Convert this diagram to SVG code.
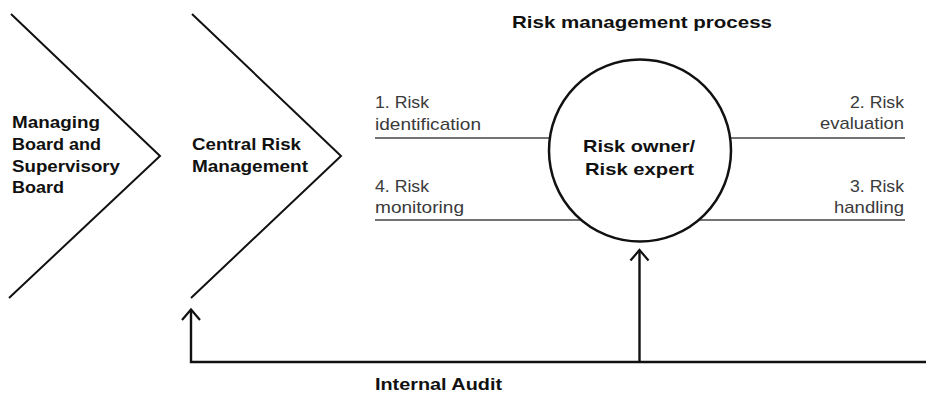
<svg xmlns="http://www.w3.org/2000/svg" width="926" height="419" viewBox="0 0 926 419">
  <style>
    .b { font-family: "Liberation Sans", Arial, sans-serif; font-weight: bold; font-size: 17px; fill: #111; }
    .r { font-family: "Liberation Sans", Arial, sans-serif; font-size: 17px; fill: #3a3a3a; }
    .chev { fill: none; stroke: #111; stroke-width: 2; }
    .proc { stroke: #444; stroke-width: 1.5; fill: none; }
    .conn { fill: none; stroke: #111; stroke-width: 2.4; }
    .head { fill: none; stroke: #111; stroke-width: 2.2; }
  </style>

  <g id="title">
    <text class="b" x="512" y="27.5" textLength="260" lengthAdjust="spacingAndGlyphs">Risk management process</text>
  </g>

  <g id="managing-board">
    <polyline class="chev" points="11,14 160,156 9,298"/>
    <text class="b" x="12" y="128" textLength="88" lengthAdjust="spacingAndGlyphs">Managing</text>
    <text class="b" x="12" y="150" textLength="89" lengthAdjust="spacingAndGlyphs">Board and</text>
    <text class="b" x="12" y="171.5" textLength="108" lengthAdjust="spacingAndGlyphs">Supervisory</text>
    <text class="b" x="12" y="193" textLength="52" lengthAdjust="spacingAndGlyphs">Board</text>
  </g>

  <g id="central-risk-management">
    <polyline class="chev" points="192,14 341,156 191,298"/>
    <text class="b" x="192" y="150" textLength="109" lengthAdjust="spacingAndGlyphs">Central Risk</text>
    <text class="b" x="192" y="172" textLength="116" lengthAdjust="spacingAndGlyphs">Management</text>
  </g>

  <g id="process-steps">
    <line class="proc" x1="375" y1="138" x2="905" y2="138"/>
    <line class="proc" x1="375" y1="220" x2="905" y2="220"/>
    <text class="r" x="375" y="108" textLength="54" lengthAdjust="spacingAndGlyphs">1. Risk</text>
    <text class="r" x="375" y="129.5" textLength="106" lengthAdjust="spacingAndGlyphs">identification</text>
    <text class="r" x="375" y="192" textLength="54" lengthAdjust="spacingAndGlyphs">4. Risk</text>
    <text class="r" x="375" y="213" textLength="89" lengthAdjust="spacingAndGlyphs">monitoring</text>
    <text class="r" x="904" y="107.5" text-anchor="end" textLength="54" lengthAdjust="spacingAndGlyphs">2. Risk</text>
    <text class="r" x="904" y="128.5" text-anchor="end" textLength="84" lengthAdjust="spacingAndGlyphs">evaluation</text>
    <text class="r" x="904" y="192" text-anchor="end" textLength="54" lengthAdjust="spacingAndGlyphs">3. Risk</text>
    <text class="r" x="904" y="213" text-anchor="end" textLength="70" lengthAdjust="spacingAndGlyphs">handling</text>
  </g>

  <g id="risk-owner">
    <circle cx="640" cy="150.5" r="91" fill="#fff" stroke="#111" stroke-width="2.5"/>
    <text class="b" x="583" y="152" font-size="18" textLength="112" lengthAdjust="spacingAndGlyphs">Risk owner/</text>
    <text class="b" x="585" y="175" font-size="18" textLength="109" lengthAdjust="spacingAndGlyphs">Risk expert</text>
  </g>

  <g id="internal-audit">
    <text class="b" x="375" y="390" textLength="127" lengthAdjust="spacingAndGlyphs">Internal Audit</text>
  </g>

  <g id="connectors">
    <polyline class="conn" points="926,362 191,362 191,310"/>
    <polyline class="head" points="182,320 191,309.5 200,320"/>
    <line class="conn" x1="639.5" y1="362" x2="639.5" y2="251"/>
    <polyline class="head" points="630.5,260.5 639.5,250 648.5,260.5"/>
  </g>
</svg>
